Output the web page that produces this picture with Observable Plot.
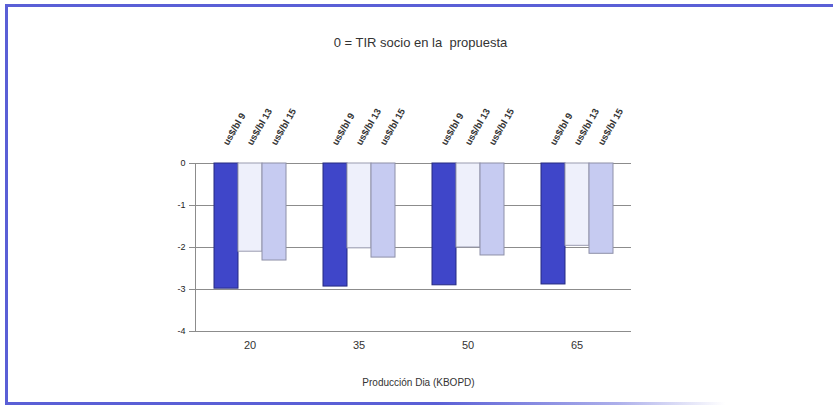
<!DOCTYPE html>
<html>
<head>
<meta charset="utf-8">
<script src="https://cdn.jsdelivr.net/npm/d3@7"></script>
<script src="https://cdn.jsdelivr.net/npm/@observablehq/plot@0.6"></script>
<style>
  html, body { margin: 0; padding: 0; background: #fff; }
  #wrap { position: relative; width: 833px; height: 409px; overflow: hidden; font-family: "Liberation Sans", Arial, sans-serif; }
  #border { position: absolute; left: 5px; top: 4px; width: 840px; height: 398px;
    border-left: 3px solid #5a5fd6; border-top: 3px solid #5a5fd6; }
  #bottomline { position: absolute; left: 5px; top: 402px; width: 720px; height: 3px;
    background: linear-gradient(to right, #5a5fd6 0%, #5a5fd6 60%, rgba(90,95,214,0.5) 85%, rgba(90,95,214,0) 100%); }
  #title { position: absolute; left: 0; width: 833px; top: 35px; text-align: center; padding-left: 4px; font-size: 13px; color: #333; white-space: pre; }
  #xlabel { position: absolute; left: 0; width: 833px; top: 377px; text-align: center; padding-left: 2px; font-size: 10px; color: #333; }
  #chart { position: absolute; left: 0; top: 0; }
</style>
</head>
<body>
<div id="wrap">
  <div id="border"></div>
  <div id="bottomline"></div>
  <div id="chart"></div>
  <div id="title">0 = TIR socio en la  propuesta</div>
  <div id="xlabel">Producción Dia (KBOPD)</div>
</div>
<script>
const groups = [20, 35, 50, 65];
const series = ["us$/bl 9", "us$/bl 13", "us$/bl 15"];
const tir9  = [-2.98, -2.93, -2.90, -2.88];
const tir13 = [-2.10, -2.02, -2.00, -1.96];
const tir15 = [-2.31, -2.24, -2.19, -2.15];
const yTicks = [0, -1, -2, -3, -4];
const fills = ["#3f46c9", "#eef0fb", "#c6cbf1"];
const strokes = ["#262b80", "#9a9cb0", "#8e90a8"];

const values = [tir9, tir13, tir15];
const data = [];
groups.forEach((g, i) => series.forEach((s, j) => data.push({group: g, series: s, value: values[j][i]})));

const chart = Plot.plot({
  width: 833,
  height: 409,
  marginLeft: 194,
  marginRight: 201,
  marginTop: 163,
  marginBottom: 78,
  style: {fontFamily: "Liberation Sans, Arial, sans-serif", background: "transparent"},
  fx: {domain: groups, padding: 0, label: null},
  x: {domain: series, paddingInner: 0, paddingOuter: 0.73, axis: null},
  y: {domain: [-4, 0], label: null},
  color: {domain: series, range: fills},
  marks: [
    Plot.ruleY(yTicks, {stroke: "#8c8c8c", strokeWidth: 1}),
    Plot.barY(data, {fx: "group", x: "series", y: "value", fill: "series",
      stroke: d => strokes[series.indexOf(d.series)], strokeWidth: 1}),
    Plot.text(data, {fx: "group", x: "series", y: () => 0, text: "series", rotate: -60,
      textAnchor: "start", dy: -19, dx: -1, fontSize: 9.5, fontWeight: "bold", fill: "#333"}),
    Plot.axisY({ticks: yTicks, tickFormat: d => String(d), tickSize: 6, tickPadding: 4,
      fontSize: 9, stroke: "#8c8c8c", fill: "#222", label: null}),
    Plot.frame({anchor: "left", facetAnchor: "left", stroke: "#8c8c8c"}),
    Plot.axisFx({anchor: "bottom", tickSize: 0, tickPadding: 10, fontSize: 11, fill: "#333", label: null})
  ]
});
document.getElementById("chart").appendChild(chart);
</script>
</body>
</html>
